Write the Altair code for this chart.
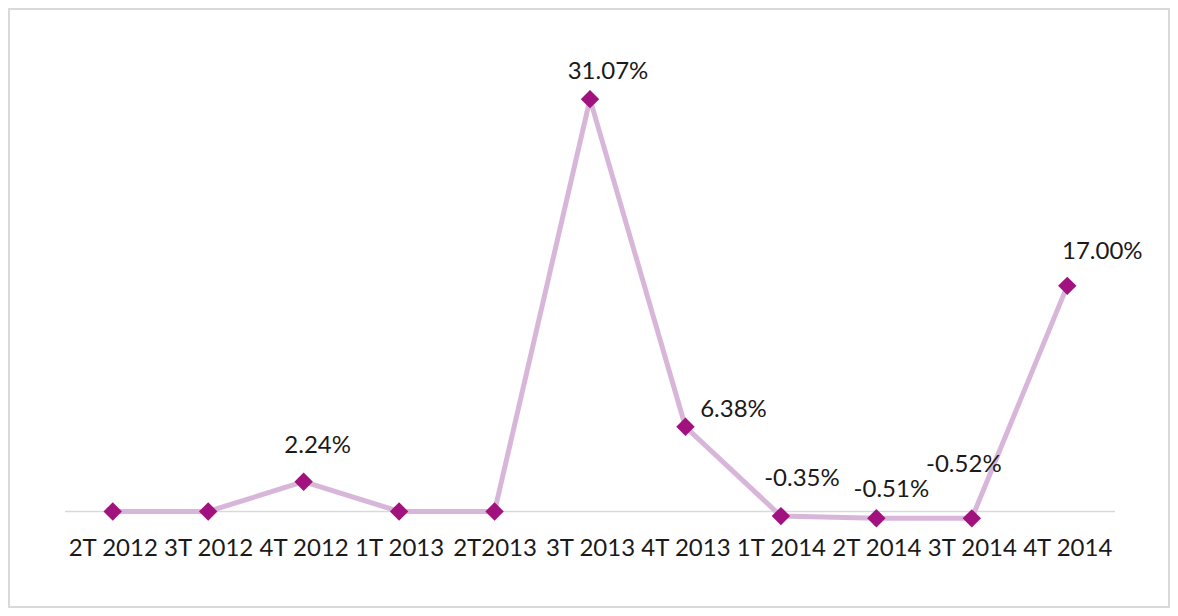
import altair as alt
import pandas as pd

quarters = ["2T 2012", "3T 2012", "4T 2012", "1T 2013", "2T2013", "3T 2013",
            "4T 2013", "1T 2014", "2T 2014", "3T 2014", "4T 2014"]
values = [0.0, 0.0, 2.24, 0.0, 0.0, 31.07, 6.38, -0.35, -0.51, -0.52, 17.00]
# pixel offsets of the data labels relative to their point (style)
label_dx = [0, 0, 14, 0, 0, 18, 48, 21, 15, -8, 35]
label_dy = [0, 0, -36, 0, 0, -27, -17, -37, -28, -53, -34]

df = pd.DataFrame({
    "q": quarters,
    "v": values,
    "lbl": [f"{v:.2f}%" if v != 0 else "" for v in values],
})

W, H = 1050, 491
FONT = "Lato"

x_enc = alt.X("q:N", sort=quarters,
              scale=alt.Scale(type="point", padding=0.5),
              axis=alt.Axis(title=None, domain=False, ticks=False, grid=False,
                            labelAngle=0, labelFont=FONT, labelFontSize=24,
                            labelColor="#1a1a1a", labelPadding=-2,
                            labelOverlap=False, labelBaseline="top"))
y_scale = alt.Scale(domain=[-2, 35], nice=False, zero=False)
y_enc = alt.Y("v:Q", scale=y_scale, axis=None)

base = alt.Chart(df)

border = alt.Chart(df.head(1)).mark_rect(
    fill="transparent", stroke="#d9d9d9", strokeWidth=2, clip=False
).encode(
    x=alt.value(-56), x2=alt.value(W + 54),
    y=alt.value(-38), y2=alt.value(H + 69),
)

zero = base.mark_rule(color="#d9d9d9", strokeWidth=1.5).encode(
    y=alt.Y("z:Q", scale=y_scale, axis=None), x=alt.value(0), x2=alt.value(W)
).transform_filter("datum.q == '2T 2012'").transform_calculate(z="0")

line = base.mark_line(color="#d8b6da", strokeWidth=5).encode(x=x_enc, y=y_enc)

pts = base.mark_point(shape="diamond", filled=True, color="#a1127f",
                      size=340, opacity=1).encode(x=x_enc, y=y_enc)

label_layers = []
for q, v, dx, dy in zip(quarters, values, label_dx, label_dy):
    if v == 0:
        continue
    label_layers.append(
        base.transform_filter(alt.datum.q == q).mark_text(
            font=FONT, fontSize=24, color="#1a1a1a", align="center",
            baseline="middle", dx=dx, dy=dy
        ).encode(x=x_enc, y=y_enc, text="lbl:N")
    )

chart = alt.layer(border, zero, line, pts, *label_layers).properties(
    width=W, height=H,
    autosize=alt.AutoSizeParams(type="none"),
    padding={"left": 57, "top": 39, "right": 55, "bottom": 70},
).configure(background="white").configure_view(strokeWidth=0, stroke=None)

chart.save("out.html", embed_options={"renderer": "svg", "actions": False})
